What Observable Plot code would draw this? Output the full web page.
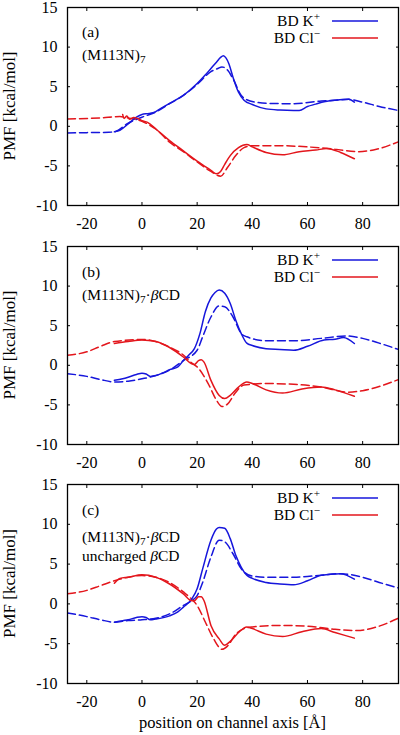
<!DOCTYPE html>
<html><head><meta charset="utf-8">
<script src="https://cdn.jsdelivr.net/npm/d3@7"></script>
<script src="https://cdn.jsdelivr.net/npm/@observablehq/plot@0.6"></script>
<style>
body{margin:0;background:#fff}
#chart{width:400px;height:735px;overflow:hidden}
#chart svg{display:block}
</style>
</head><body><div id="chart"></div>
<script>
// ---- axes / labels ----
const xTicks = [-20, 0, 20, 40, 60, 80];
const yTicks = [-10, -5, 0, 5, 10, 15];
const xDomain = [-27, 93];
const yDomain = [-10, 15];
const yLabel = "PMF [kcal/mol]";
const xLabel = "position on channel axis [Å]";
const legendK = "BD K";
const legendCl = "BD Cl";

// ---- panel (a): (M113N)7 ----
const aKsolid = [[-10,-0.7],[-8,-0.5],[-5,0.3],[-2,1.15],[0,1.5],[2,1.6],[4,1.7],[7,2.3],[10,2.9],[15,3.9],[20,5.4],[23,6.5],[25,7.3],[27,8.1],[28.5,8.7],[29.5,8.9],[30.5,8.6],[31.5,7.9],[33,6.2],[35,4.3],[37,3.3],[40,2.75],[45,2.2],[50,2.05],[55,2.0],[57,2.0],[60,2.5],[63,2.8],[66,3.1],[70,3.3],[75,3.4],[77,3.05]];
const aKdash = [[-27,-0.85],[-20,-0.8],[-12,-0.75],[-10,-0.7],[-5,0.4],[0,1.15],[5,1.8],[10,2.85],[15,3.9],[20,5.3],[25,6.9],[27.5,7.3],[29,7.5],[31,7.1],[33,6.0],[36,3.9],[38,3.35],[42,3.0],[45,2.9],[55,2.85],[65,3.2],[70,3.3],[75,3.4],[80,3.05],[86,2.5],[93,2.0]];
const aClsolid = [[-7,1.5],[-6.5,1.0],[-5.5,1.3],[-4.5,0.9],[-3,1.1],[-1,0.9],[0,0.7],[2,0.5],[5,-0.34],[10,-1.8],[15,-3.1],[20,-4.4],[25,-5.55],[27,-6.0],[28.5,-5.7],[30,-4.8],[32,-3.7],[35,-2.7],[38,-2.3],[40,-2.6],[45,-3.3],[51,-3.6],[57,-3.2],[63,-3.0],[67,-2.8],[72,-3.3],[77,-4.1]];
const aCldash = [[-27,0.93],[-15,1.06],[-8,1.23],[-5,1.06],[0,0.64],[3,0.1],[5,-0.34],[10,-2.0],[15,-3.2],[20,-4.5],[25,-5.7],[28.5,-6.3],[31,-5.2],[34,-3.7],[37,-2.7],[40,-2.45],[50,-2.45],[60,-2.6],[70,-2.9],[78,-3.2],[85,-2.9],[93,-1.95]];

// ---- panel (b): (M113N)7·βCD ----
const bKsolid = [[-10,-1.9],[-7,-1.7],[-5,-1.5],[-2,-1.15],[0,-1.0],[1.5,-1.1],[3,-1.4],[5,-1.3],[8,-0.9],[10,-0.55],[13,-0.2],[15,0.6],[17,1.3],[19,2.1],[21,4.0],[23,6.8],[25,8.5],[26.5,9.2],[28,9.5],[30,9.1],[32,7.8],[34,5.7],[36,4.0],[38,2.8],[40,2.5],[45,2.1],[50,2.0],[55,1.9],[60,2.4],[66,3.2],[70,3.3],[73,3.5],[77,2.75]];
const bKdash = [[-27,-1.06],[-20,-1.4],[-15,-1.8],[-10,-2.1],[-5,-2.0],[0,-1.7],[5,-1.3],[10,-0.6],[15,0.6],[20,1.9],[22,3.6],[25,6.1],[28,7.5],[30,7.4],[33,6.1],[36,4.0],[38,3.6],[45,3.1],[55,3.1],[65,3.4],[74,3.7],[80,3.4],[86,2.8],[93,2.0]];
const bClsolid = [[-10,2.75],[-5,3.0],[0,3.2],[5,3.0],[10,2.25],[15,1.05],[18,0.2],[19,0.1],[20.5,0.6],[21.5,0.7],[22.5,0.4],[25,-1.9],[28,-3.8],[30,-4.2],[32,-3.8],[35,-2.75],[38,-2.1],[40,-2.3],[45,-3.1],[51,-3.5],[58,-3.0],[65,-2.75],[70,-3.1],[77,-3.9]];
const bCldash = [[-27,1.27],[-20,1.7],[-15,2.4],[-10,3.0],[0,3.26],[5,3.0],[10,2.3],[15,1.3],[18,0.3],[20,-0.2],[24,-2.3],[27,-4.4],[29,-5.2],[31,-4.9],[34,-3.4],[37,-2.5],[45,-2.3],[55,-2.4],[65,-2.75],[75,-3.4],[80,-3.2],[93,-1.8]];

// ---- panel (c): (M113N)7·βCD, uncharged βCD ----
const cKsolid = [[-10,-2.3],[-7,-2.1],[-5,-2.0],[-2,-1.7],[0,-1.6],[1.5,-1.7],[3,-2.0],[5,-1.9],[10,-1.5],[13,-1.0],[15,-0.4],[18,0.6],[20,1.9],[22,4.4],[25,8.0],[27,9.4],[28,9.6],[30,9.5],[32,8.2],[34,6.1],[36,4.6],[38,3.6],[40,3.2],[45,2.7],[50,2.5],[55,2.4],[60,2.9],[65,3.6],[72,3.8],[77,3.1]];
const cKdash = [[-27,-1.13],[-20,-1.6],[-15,-2.0],[-10,-2.3],[-5,-2.1],[0,-2.0],[5,-1.8],[10,-1.26],[15,-0.2],[18,0.4],[20,1.05],[22,2.7],[25,5.9],[28,8.0],[30,7.8],[33,6.3],[36,4.4],[40,3.5],[45,3.35],[55,3.35],[65,3.6],[72,3.8],[80,3.35],[86,2.7],[93,2.0]];
const cClsolid = [[-10,2.6],[-8,3.2],[-5,3.35],[0,3.65],[5,3.35],[10,2.5],[15,1.26],[18,0.4],[19,0.4],[20.5,0.9],[21.5,0.9],[22.5,0.4],[25,-2.7],[28,-4.4],[30,-5.2],[32,-4.7],[35,-3.6],[38,-2.9],[40,-3.1],[45,-3.8],[51,-4.1],[58,-3.5],[65,-3.1],[70,-3.6],[77,-4.3]];
const cCldash = [[-27,1.26],[-20,1.7],[-15,2.3],[-10,2.9],[-5,3.35],[0,3.56],[5,3.35],[10,2.7],[15,1.5],[18,0.6],[20,-0.2],[23,-2.3],[26,-4.4],[29,-5.7],[31,-5.3],[34,-3.8],[37,-3.1],[40,-2.9],[50,-2.7],[60,-2.8],[70,-3.2],[78,-3.35],[85,-2.9],[93,-1.8]];

const FONT = "'Liberation Serif', 'DejaVu Serif', serif";
const BLUE = "#1616dc";
const RED = "#e3161c";
const fmt = d => String(d);

// annotation parts: [text, kind] where kind: "", "sub", "sup", "it"
function addRich(sel, x, y, parts, size, anchor) {
  const t = sel.append("text").attr("x", x).attr("y", y)
    .attr("font-size", size)
    .attr("text-anchor", anchor || "start").attr("fill", "black");
  let shift = 0;
  for (const [s, kind] of parts) {
    const ts = t.append("tspan").text(s);
    let target = 0;
    if (kind === "sub") { target = 3; ts.attr("font-size", size * 0.72); }
    if (kind === "sup") { target = -6; ts.attr("font-size", size * 0.72); }
    if (kind === "it") ts.attr("font-style", "italic");
    if (target !== shift) { ts.attr("dy", target - shift); shift = target; }
  }
  return t;
}

function panel(opts) {
  const {kSolid, kDash, clSolid, clDash, height, marginBottom, lines, withXLabel} = opts;
  const line = (data, color, dashed) => Plot.line(data, {
    x: d => d[0], y: d => d[1], stroke: color, strokeWidth: 1.5,
    strokeDasharray: dashed ? "8,4" : null, curve: "monotone-x", clip: true
  });
  const marks = [
    line(kDash, BLUE, true),
    line(clDash, RED, true),
    line(kSolid, BLUE, false),
    line(clSolid, RED, false),
    Plot.axisX({ticks: xTicks, tickSize: 0, tickPadding: 12, tickFormat: fmt, label: null, fontSize: 16}),
    Plot.axisX({ticks: xTicks, anchor: "bottom", tickSize: -3, text: null, tickFormat: () => "", label: null}),
    Plot.axisX({ticks: xTicks, anchor: "top", tickSize: -3, text: null, tickFormat: () => "", label: null}),
    Plot.axisY({ticks: yTicks, tickSize: 0, tickPadding: 10, tickFormat: fmt, label: null, fontSize: 16}),
    Plot.axisY({ticks: yTicks, anchor: "left", tickSize: -3, text: null, tickFormat: () => "", label: null}),
    Plot.axisY({ticks: yTicks, anchor: "right", tickSize: -3, text: null, tickFormat: () => "", label: null}),
    Plot.frame({stroke: "black", strokeWidth: 1.3})
  ];
  const svg = Plot.plot({
    width: 400, height, marginLeft: 67, marginRight: 2, marginTop: 7, marginBottom,
    style: {fontFamily: FONT, fontSize: "16px", background: "white", color: "black"},
    x: {domain: xDomain},
    y: {domain: yDomain},
    marks
  });
  const s = d3.select(svg);
  const frameBottom = height - marginBottom;
  // y axis label (rotated)
  s.append("text").attr("transform", `translate(9,${(7 + frameBottom) / 2}) rotate(-90)`)
    .attr("text-anchor", "middle").attr("dy", "0.35em")
    .attr("font-size", 17).attr("fill", "black").text(yLabel);
  if (withXLabel) {
    s.append("text").attr("x", (67 + 398) / 2).attr("y", frameBottom + 39)
      .attr("text-anchor", "middle").attr("dy", "0.35em")
      .attr("font-size", 16.5).attr("fill", "black").text(xLabel);
  }
  // panel annotations
  for (const l of lines) addRich(s, 82, l.y, l.parts, 15.5);
  // legend
  const legend = [[legendK, "+", BLUE, 21], [legendCl, "\u2212", RED, 38]];
  for (const [name, sup, color, y] of legend) {
    addRich(s, 320, y + 5, [[name, ""], [sup, "sup"]], 15.5, "end");
    s.append("line").attr("x1", 332).attr("x2", 378).attr("y1", y).attr("y2", y)
      .attr("stroke", color).attr("stroke-width", 1.6);
  }
  s.selectAll("text").style("font-family", FONT);
  return svg;
}

const root = document.getElementById("chart");
root.appendChild(panel({kSolid: aKsolid, kDash: aKdash, clSolid: aClsolid, clDash: aCldash,
  height: 239, marginBottom: 34,
  lines: [{y: 37, parts: [["(a)", ""]]}, {y: 60, parts: [["(M113N)", ""], ["7", "sub"]]}]}));
root.appendChild(panel({kSolid: bKsolid, kDash: bKdash, clSolid: bClsolid, clDash: bCldash,
  height: 238, marginBottom: 33,
  lines: [{y: 38, parts: [["(b)", ""]]}, {y: 61, parts: [["(M113N)", ""], ["7", "sub"], ["·", ""], ["β", "it"], ["CD", ""]]}]}));
root.appendChild(panel({kSolid: cKsolid, kDash: cKdash, clSolid: cClsolid, clDash: cCldash,
  height: 258, marginBottom: 52, withXLabel: true,
  lines: [{y: 38, parts: [["(c)", ""]]}, {y: 65, parts: [["(M113N)", ""], ["7", "sub"], ["·", ""], ["β", "it"], ["CD", ""]]},
          {y: 84, parts: [["uncharged ", ""], ["β", "it"], ["CD", ""]]}]}));
</script>
</body></html>
